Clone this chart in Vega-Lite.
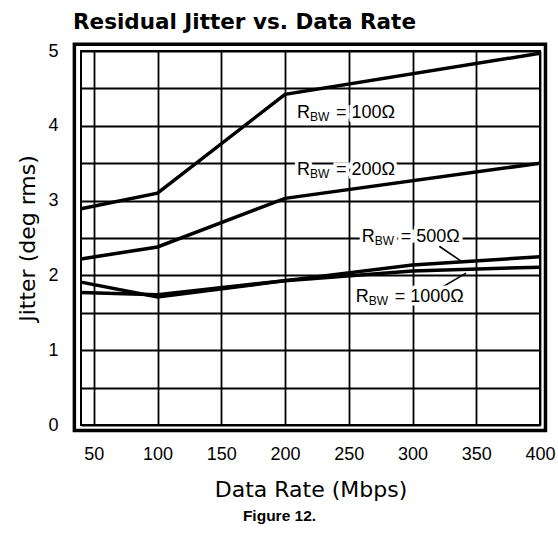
{
  "$schema": "https://vega.github.io/schema/vega-lite/v6.json",
  "width": 459,
  "height": 374,
  "autosize": {"type": "none"},
  "padding": {"left": 81, "top": 51, "right": 18, "bottom": 108},
  "background": "white",
  "title": {
    "text": "Residual Jitter vs. Data Rate",
    "anchor": "start",
    "frame": "group",
    "font": "DejaVu Sans",
    "fontSize": 21.5,
    "fontWeight": "bold",
    "color": "black",
    "offset": 9,
    "dx": -8
  },
  "config": {
    "view": {"stroke": "black", "strokeWidth": 2},
    "font": "Liberation Sans",
    "axis": {
      "gridColor": "black",
      "gridOpacity": 1,
      "gridWidth": 1.8,
      "labelColor": "black",
      "titleColor": "black",
      "labelFont": "Liberation Sans",
      "labelFontSize": 18,
      "labelFlush": false,
      "titleFont": "DejaVu Sans",
      "titleFontSize": 22,
      "titleFontWeight": "normal"
    },
    "axisY": {
      "title": "Jitter (deg rms)",
      "values": [0, 0.5, 1, 1.5, 2, 2.5, 3, 3.5, 4, 4.5, 5],
      "format": "~g",
      "labelExpr": "datum.value % 1 === 0 ? datum.label : ''",
      "grid": true, "ticks": false, "domain": false, "labelPadding": 23, "titlePadding": 8
    }
  },
  "datasets": {
    "curves": [
      {"series": "100Ω", "rate": 40, "jitter": 2.89},
      {"series": "100Ω", "rate": 100, "jitter": 3.10},
      {"series": "100Ω", "rate": 200, "jitter": 4.42},
      {"series": "100Ω", "rate": 400, "jitter": 4.97},
      {"series": "200Ω", "rate": 40, "jitter": 2.22},
      {"series": "200Ω", "rate": 100, "jitter": 2.38},
      {"series": "200Ω", "rate": 200, "jitter": 3.03},
      {"series": "200Ω", "rate": 400, "jitter": 3.50},
      {"series": "500Ω", "rate": 40, "jitter": 1.91},
      {"series": "500Ω", "rate": 100, "jitter": 1.71},
      {"series": "500Ω", "rate": 200, "jitter": 1.93},
      {"series": "500Ω", "rate": 300, "jitter": 2.14},
      {"series": "500Ω", "rate": 400, "jitter": 2.25},
      {"series": "1000Ω", "rate": 40, "jitter": 1.77},
      {"series": "1000Ω", "rate": 100, "jitter": 1.74},
      {"series": "1000Ω", "rate": 200, "jitter": 1.93},
      {"series": "1000Ω", "rate": 300, "jitter": 2.06},
      {"series": "1000Ω", "rate": 400, "jitter": 2.11}
    ],
    "labels": [
      {"series": "100Ω", "rate": 209.4, "jitter": 4.17, "rest": "= 100Ω"},
      {"series": "200Ω", "rate": 209.4, "jitter": 3.41, "rest": "= 200Ω"},
      {"series": "500Ω", "rate": 260.2, "jitter": 2.51, "rest": "= 500Ω"},
      {"series": "1000Ω", "rate": 255.5, "jitter": 1.71, "rest": "= 1000Ω"}
    ],
    "leaders": [
      {"series": "500Ω", "rate": 321, "jitter": 2.39, "rate2": 339, "jitter2": 2.18},
      {"series": "1000Ω", "rate": 323, "jitter": 1.84, "rate2": 342, "jitter2": 2.03}
    ]
  },
  "layer": [
    {
      "data": {"name": "curves"},
      "mark": {"type": "line", "color": "black", "strokeWidth": 3.5, "strokeJoin": "miter"},
      "encoding": {
        "x": {"field": "rate", "type": "quantitative",
          "scale": {"domain": [40, 400], "nice": false, "zero": false},
          "axis": {"orient": "bottom", "title": "Data Rate (Mbps)", "values": [50, 100, 150, 200, 250, 300, 350, 400],
                   "grid": true, "ticks": false, "domain": false, "labelPadding": 20, "titlePadding": 16}},
        "y": {"field": "jitter", "type": "quantitative", "title": "Jitter (deg rms)",
          "scale": {"domain": [0, 5], "nice": false}},
        "detail": {"field": "series"}
      }
    },
    {
      "data": {"values": [{}]},
      "mark": {"type": "rect", "fill": "transparent", "stroke": "black", "strokeWidth": 3.5},
      "encoding": {
        "x": {"datum": 34.8, "type": "quantitative",
          "axis": {"orient": "bottom", "offset": 75, "title": "Figure 12.", "labels": false, "ticks": false, "domain": false, "grid": false,
                   "titleX": 198, "titleAnchor": "middle",
                   "titleFont": "Liberation Sans", "titleFontWeight": "bold", "titleFontSize": 15.5, "titlePadding": 8}},
        "x2": {"datum": 404.3},
        "y": {"datum": -0.074, "type": "quantitative", "title": "Jitter (deg rms)"},
        "y2": {"datum": 5.09}
      }
    },
    {
      "data": {"name": "leaders"},
      "mark": {"type": "rule", "color": "black", "strokeWidth": 1.6},
      "encoding": {
        "x": {"field": "rate", "type": "quantitative", "axis": null},
        "y": {"field": "jitter", "type": "quantitative", "title": "Jitter (deg rms)"},
        "x2": {"field": "rate2"},
        "y2": {"field": "jitter2"}
      }
    },
    {
      "data": {"name": "labels"},
      "mark": {"type": "text", "text": "R", "fontSize": 18, "align": "left", "baseline": "middle", "stroke": "white", "strokeWidth": 7, "fill": "white"},
      "encoding": {
        "x": {"field": "rate", "type": "quantitative", "axis": null},
        "y": {"field": "jitter", "type": "quantitative", "title": "Jitter (deg rms)"}
      }
    },
    {
      "data": {"name": "labels"},
      "mark": {"type": "text", "text": "BW", "fontSize": 12, "align": "left", "baseline": "middle", "dx": 13, "dy": 4, "stroke": "white", "strokeWidth": 7, "fill": "white"},
      "encoding": {
        "x": {"field": "rate", "type": "quantitative", "axis": null},
        "y": {"field": "jitter", "type": "quantitative", "title": "Jitter (deg rms)"}
      }
    },
    {
      "data": {"name": "labels"},
      "mark": {"type": "text", "fontSize": 18, "align": "left", "baseline": "middle", "dx": 39, "stroke": "white", "strokeWidth": 7, "fill": "white"},
      "encoding": {
        "x": {"field": "rate", "type": "quantitative", "axis": null},
        "y": {"field": "jitter", "type": "quantitative", "title": "Jitter (deg rms)"},
        "text": {"field": "rest"}
      }
    },
    {
      "data": {"name": "labels"},
      "mark": {"type": "text", "text": "R", "fontSize": 18, "align": "left", "baseline": "middle", "color": "black"},
      "encoding": {
        "x": {"field": "rate", "type": "quantitative", "axis": null},
        "y": {"field": "jitter", "type": "quantitative", "title": "Jitter (deg rms)"}
      }
    },
    {
      "data": {"name": "labels"},
      "mark": {"type": "text", "text": "BW", "fontSize": 12, "align": "left", "baseline": "middle", "dx": 13, "dy": 4, "color": "black"},
      "encoding": {
        "x": {"field": "rate", "type": "quantitative", "axis": null},
        "y": {"field": "jitter", "type": "quantitative", "title": "Jitter (deg rms)"}
      }
    },
    {
      "data": {"name": "labels"},
      "mark": {"type": "text", "fontSize": 18, "align": "left", "baseline": "middle", "dx": 39, "color": "black"},
      "encoding": {
        "x": {"field": "rate", "type": "quantitative", "axis": null},
        "y": {"field": "jitter", "type": "quantitative", "title": "Jitter (deg rms)"},
        "text": {"field": "rest"}
      }
    }
  ],
  "resolve": {"axis": {"x": "independent"}}
}
